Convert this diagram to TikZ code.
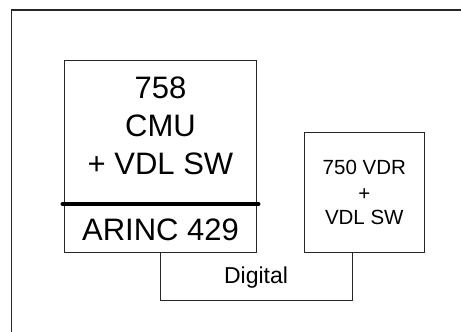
\documentclass[tikz,border=0pt]{standalone}
\usepackage{fontspec}
\setmainfont{Liberation Sans}
\begin{document}
\begin{tikzpicture}[x=1pt,y=-1pt,
  box/.style={draw=black!85,line width=0.9pt,rectangle,inner sep=0pt},
  wire/.style={draw=black!85,line width=0.9pt},
  big/.style={font=\fontsize{31}{37.7}\selectfont,inner sep=0pt,anchor=base},
  small/.style={font=\fontsize{20.5}{25}\selectfont,inner sep=0pt,anchor=base}]
\useasboundingbox (0,0) rectangle (461,332);
% outer frame (only left and top edges visible)
\draw[line width=1.2pt,black!85] (11.5,340) -- (11.5,10) -- (470,10);
% main unit
\node[box,minimum width=192.4pt,minimum height=191.3pt] (cmu) at (160.5,156.3) {};
\draw[line width=4pt,line cap=round] (62.5,204) coordinate (dl) -- (258.5,204) coordinate (dr);
\node[big] (t1) at (160.5,98) {758};
\node[big] (t2) at (160.5,136) {CMU};
\node[big] (t3) at (160.5,174) {+ VDL SW};
\node[big] (t4) at (160.5,240) {ARINC 429};
% VDR
\node[box,minimum width=120pt,minimum height=120pt] (vdr) at (364.3,192) {};
\node[small] (v1) at (364.3,174) {750 VDR};
\node[small] (v2) at (364.3,200) {+};
\node[small] (v3) at (364.3,224) {VDL SW};
% connection
\coordinate (c1) at ([xshift=-12pt]vdr.south);
\draw[wire] (cmu.south) -- ++(0,48) -| (c1);
\node[font=\fontsize{23}{27}\selectfont,inner sep=0pt,anchor=base] (dig) at (256,283) {Digital};
\end{tikzpicture}
\end{document}
